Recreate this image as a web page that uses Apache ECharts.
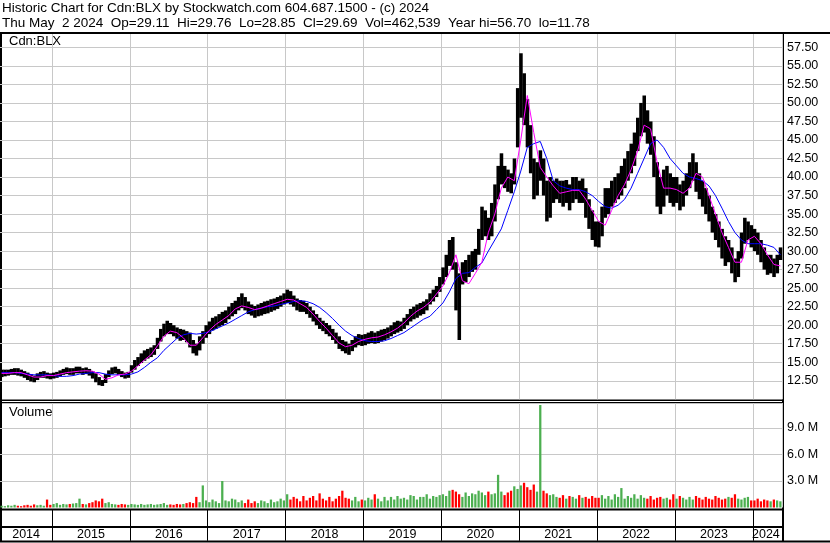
<!DOCTYPE html>
<html><head><meta charset="utf-8">
<script src="https://cdn.jsdelivr.net/npm/echarts@6/dist/echarts.min.js"></script>
<style>html,body{margin:0;padding:0;background:#fff}#c{width:830px;height:543px}</style>
</head><body><div id="c"></div>
<script>
// ---------- DATA ----------
// half-month periods from 2014-05 (first half) to 2024-05 (first half)
const yearLabels = ['2014','2015','2016','2017','2018','2019','2020','2021','2022','2023','2024'];
const firstPeriod = {year: 2014, month: 5};
const periodCount = 241;

// price high / low per half-month period
const hiPrices = [
 14.0,14.0,14.0,14.1,14.2,14.2,14.0,13.8,13.6,13.4,13.2,13.5,13.7,13.8,13.6,13.5,
 13.6,13.7,13.9,14.1,14.3,14.2,14.2,14.4,14.4,14.2,14.3,14.1,13.8,13.5,13.0,12.6,13.4,13.9,14.3,14.4,14.1,13.8,13.6,13.7,
 14.6,15.3,15.7,16.2,16.6,16.8,17.0,17.3,18.3,19.5,20.2,20.6,20.3,20.0,19.7,19.5,19.4,19.2,19.0,18.0,17.5,18.5,19.2,20.0,
 20.5,21.0,21.2,21.5,21.8,22.0,22.5,23.0,23.3,23.8,24.3,23.8,23.2,22.8,22.6,22.8,23.0,23.2,23.3,23.5,23.6,23.8,24.0,24.3,
 24.8,24.6,24.0,23.6,23.4,23.3,23.0,22.5,22.0,21.5,21.0,20.6,20.3,20.0,19.5,19.0,18.5,18.0,17.8,17.5,18.0,18.5,18.8,18.7,
 18.8,19.0,19.2,19.0,19.2,19.4,19.5,19.7,20.0,20.4,20.6,20.5,21.0,21.5,22.2,22.5,22.8,23.0,23.2,23.5,24.3,24.8,25.3,26.5,
 27.8,29.5,31.5,31.9,28.5,27.0,28.5,28.8,29.5,30.0,30.3,33.0,36.0,35.5,34.5,36.5,39.0,41.5,43.2,41.5,41.0,40.5,42.5,52.0,
 56.7,54.0,50.5,47.0,42.5,42.0,43.6,42.5,39.5,40.0,39.5,39.8,39.5,39.5,39.6,39.0,40.0,40.0,39.5,39.8,38.5,37.0,35.5,34.0,
 34.0,36.0,38.5,38.5,39.5,40.0,40.5,41.5,42.5,43.5,44.5,46.0,48.0,50.0,51.0,49.0,47.5,45.5,42.0,40.0,41.0,41.5,40.5,40.0,
 40.0,39.0,39.5,40.5,42.0,43.2,42.0,40.5,39.5,38.5,37.5,36.0,35.0,34.0,33.0,32.0,31.5,30.5,29.0,30.0,32.5,34.5,34.0,33.5,
 33.0,32.5,31.5,30.5,29.5,29.5,29.0,29.5,30.5
];
const loPrices = [
 13.0,13.1,13.2,13.3,13.3,13.2,13.1,12.9,12.6,12.4,12.3,12.6,12.9,12.9,12.8,12.7,
 12.8,12.9,13.1,13.3,13.4,13.3,13.3,13.5,13.5,13.3,13.4,13.2,12.8,12.3,11.9,11.8,12.2,13.0,13.4,13.5,13.3,13.0,12.8,12.9,
 13.6,14.0,14.5,14.9,15.2,15.5,15.7,16.0,16.8,17.8,18.5,18.8,18.8,18.5,18.2,17.9,18.0,17.7,17.0,16.2,15.9,16.6,17.5,18.3,
 18.8,19.3,19.5,19.8,20.0,20.3,20.8,21.2,21.5,22.0,22.3,22.0,21.5,21.3,21.0,21.2,21.3,21.5,21.6,21.8,22.0,22.2,22.5,22.8,
 23.0,22.8,22.5,22.0,21.8,21.8,21.5,21.0,20.5,20.0,19.5,19.2,18.8,18.5,18.0,17.5,16.8,16.5,16.2,16.0,16.5,17.0,17.3,17.2,
 17.3,17.5,17.6,17.5,17.6,17.8,18.0,18.2,18.5,18.8,19.0,19.2,19.5,20.0,20.5,20.8,21.0,21.3,21.5,22.0,22.8,23.2,23.8,24.5,
 25.5,26.5,28.0,27.5,22.0,18.0,25.5,25.8,26.5,27.2,27.5,29.5,31.5,32.0,31.5,32.0,34.0,37.0,39.0,38.5,38.0,37.8,39.0,44.0,
 48.0,47.0,44.0,40.5,37.0,37.5,39.5,37.5,34.0,34.5,36.5,37.0,36.5,36.0,36.5,35.5,36.5,37.0,36.5,36.5,34.5,33.0,31.5,30.6,
 30.5,32.0,34.5,35.0,36.0,36.5,37.0,37.5,38.5,39.5,40.5,41.5,43.5,45.5,46.0,44.5,43.0,40.0,36.0,35.0,36.0,37.5,36.5,36.0,
 36.5,35.5,36.0,37.5,38.5,39.5,38.0,37.0,36.0,35.0,34.0,32.5,31.5,30.5,29.0,28.0,28.5,27.0,25.8,26.5,29.0,31.0,31.5,30.5,
 30.0,29.5,28.5,27.5,26.8,27.0,26.5,27.0,28.8
];
// volume (millions) per half-month period
const volumes = [
 0.2,0.15,0.25,0.2,0.3,0.2,0.15,0.25,0.3,0.2,0.35,0.25,0.3,0.2,0.9,0.3,
 0.4,0.5,0.3,0.4,0.35,0.4,0.45,0.5,1.0,0.4,0.35,0.5,0.6,0.8,0.7,1.0,0.5,0.6,0.4,0.35,0.3,0.4,0.35,0.3,
 0.4,0.35,0.3,0.4,0.3,0.35,0.4,0.3,0.35,0.4,0.5,0.3,0.35,0.3,0.4,0.35,0.4,0.5,0.6,0.5,1.2,0.6,2.5,0.8,
 0.6,0.9,0.7,0.5,3.0,0.8,0.7,1.0,0.9,0.6,0.8,0.5,0.9,0.5,0.7,0.5,0.8,0.7,0.5,0.9,0.6,0.7,1.0,0.8,
 1.5,0.9,1.2,1.0,0.7,1.3,0.8,1.1,1.3,0.8,1.6,1.0,0.8,1.2,0.7,1.0,1.3,1.9,1.1,1.0,0.8,1.2,0.7,0.9,
 0.8,1.1,0.9,1.5,1.0,0.7,1.2,0.8,1.2,0.9,1.3,1.0,1.1,0.9,1.4,1.3,0.9,1.2,1.2,1.5,1.0,1.3,1.2,1.4,
 1.5,1.3,1.9,2.0,1.8,1.5,1.2,1.7,1.3,1.6,1.5,1.9,1.7,1.4,1.8,1.5,1.6,3.7,1.8,1.4,1.7,1.9,2.4,2.1,
 2.5,2.8,2.3,2.0,2.6,1.8,11.6,1.9,1.6,1.4,1.5,1.2,1.1,1.4,1.0,1.3,1.2,1.0,1.4,1.1,1.2,1.0,1.3,1.1,
 1.1,1.4,1.0,1.3,0.9,1.5,1.2,2.2,1.0,1.3,1.1,1.5,1.0,1.4,1.1,1.0,1.3,0.9,1.1,1.2,1.0,1.1,0.9,1.5,
 1.0,1.3,1.1,0.9,1.2,0.9,1.3,1.1,0.9,1.2,1.0,0.9,1.3,1.1,0.9,1.0,1.2,1.1,1.5,1.0,0.9,1.1,1.2,0.8,
 0.8,1.0,0.7,0.9,0.8,0.7,0.9,0.8,0.7
];
// moving averages, one value per month (May 2014 .. May 2024)
const maShort = [
 13.5,13.5,13.6,13.6,13.3,13.0,13.0,13.2,
 13.2,13.4,13.6,13.7,13.8,13.85,13.8,13.4,12.7,12.9,13.3,13.4,
 13.8,14.5,15.3,16.0,17.2,18.5,19.2,19.0,18.3,17.3,17.3,18.3,
 19.3,20.1,20.7,21.3,22.2,22.6,22.4,22.1,22.3,22.6,22.9,23.2,
 23.5,23.4,22.9,22.4,21.5,20.5,19.6,18.6,17.6,17.1,17.3,17.8,
 18.1,18.3,18.4,18.7,19.1,19.6,20.3,21.2,21.9,22.4,23.1,24.2,
 25.3,27.1,29.5,26.0,25.6,27.0,28.5,32.5,35.0,38.5,40.0,39.5,
 45.0,51.0,46.0,41.3,40.0,38.8,37.8,38.0,38.2,38.2,37.0,35.5,
 34.0,33.5,35.5,37.5,39.0,41.0,43.5,47.0,46.5,42.0,38.5,38.5,
 38.3,37.8,38.5,40.5,40.0,37.5,35.0,32.5,30.5,28.5,28.5,31.5,
 32.0,31.0,29.5,28.2,28.0
];
const maLong = [
 13.6,13.6,13.6,13.5,13.4,13.3,13.3,13.3,
 13.2,13.1,13.1,13.2,13.4,13.5,13.6,13.6,13.4,13.3,13.3,13.3,
 13.4,13.7,14.3,15.0,15.6,16.6,17.4,18.2,18.7,18.9,18.8,18.9,
 19.1,19.5,19.9,20.3,20.8,21.3,21.8,22.1,22.3,22.5,22.6,22.8,
 23.0,23.2,23.3,23.2,22.9,22.4,21.7,20.9,20.0,19.2,18.6,18.2,
 17.9,17.8,17.8,17.9,18.2,18.6,19.0,19.6,20.2,20.8,21.2,22.1,
 23.0,24.5,26.3,27.0,27.1,27.8,28.4,30.0,31.5,33.0,35.5,38.0,
 40.8,44.0,44.5,44.8,42.5,39.5,38.8,38.5,38.3,38.3,38.0,37.5,
 36.7,36.0,35.8,36.2,37.0,38.5,40.5,42.5,44.5,45.0,44.0,42.5,
 41.5,40.5,40.0,39.8,39.5,38.8,37.5,35.8,34.0,32.5,31.5,31.0,
 31.0,31.0,30.8,30.5,29.5
];
const headerLine1 = 'Historic Chart for Cdn:BLX by Stockwatch.com 604.687.1500 - (c) 2024';
const headerLine2 = 'Thu May  2 2024  Op=29.11  Hi=29.76  Lo=28.85  Cl=29.69  Vol=462,539  Year hi=56.70  lo=11.78';

// ---------- BUILD ----------
const periods = [];
{
  let y = firstPeriod.year, m = firstPeriod.month;
  while (periods.length < periodCount) {
    const mm = (m < 10 ? '0' : '') + m;
    periods.push(y + '-' + mm + 'a');
    if (periods.length < periodCount) periods.push(y + '-' + mm + 'b');
    m++; if (m > 12) { m = 1; y++; }
  }
}
const isYearStart = (i) => periods[i] && periods[i].slice(5) === '01a';
const labelIdx = new Set();
yearLabels.forEach(yl => {
  const idx = periods.map((p, i) => p.startsWith(yl) ? i : -1).filter(i => i >= 0);
  labelIdx.add(idx[Math.floor(idx.length / 2)]);
});
const mid = hiPrices.map((h, i) => (h + loPrices[i]) / 2);
const RED = '#ff0000', GREEN = '#4caf50';

const font = "'Liberation Sans', Arial, sans-serif";
const gridCol = '#c8c8c8';

const chart = echarts.init(document.getElementById('c'), null, {renderer: 'canvas'});
chart.setOption({
  animation: false,
  backgroundColor: '#fff',
  grid: [
    {left: 0, right: 48, top: 34, height: 365.3},
    {left: 0, right: 48, top: 403, height: 104.5},
    {left: 0, right: 48, top: 510, height: 16.8}
  ],
  xAxis: [
    {gridIndex: 0, type: 'category', data: periods, boundaryGap: true,
     axisLine: {show: false}, axisTick: {show: false}, axisLabel: {show: false},
     splitLine: {show: true, interval: (i) => isYearStart(i), lineStyle: {color: gridCol, width: 1}}},
    {gridIndex: 1, type: 'category', data: periods, boundaryGap: true,
     axisLine: {show: false}, axisTick: {show: false}, axisLabel: {show: false},
     splitLine: {show: true, interval: (i) => isYearStart(i), lineStyle: {color: gridCol, width: 1}}},
    {gridIndex: 2, type: 'category', data: periods, boundaryGap: true,
     axisLine: {show: true, lineStyle: {color: '#000', width: 2}},
     axisTick: {show: true, interval: (i) => isYearStart(i), length: 14, inside: false, lineStyle: {color: '#000', width: 1}},
     splitLine: {show: true, interval: (i) => isYearStart(i), lineStyle: {color: '#000', width: 1}},
     axisLabel: {show: true, interval: (i) => labelIdx.has(i), formatter: (v) => v.slice(0, 4),
       margin: 1, fontFamily: font, fontSize: 12.5, color: '#000', padding: [0, 3, 0, 0]}}
  ],
  yAxis: [
    {gridIndex: 0, type: 'value', position: 'right', min: 10, max: 59.3, interval: 2.5,
     axisLine: {show: false}, axisTick: {show: false},
     axisLabel: {showMinLabel: false, showMaxLabel: false, margin: 5, fontFamily: font, fontSize: 12.5, color: '#000',
       formatter: (v) => v.toFixed(2)},
     splitLine: {show: true, showMinLine: false, showMaxLine: false, lineStyle: {color: gridCol, width: 1}}},
    {gridIndex: 1, type: 'value', position: 'right', min: 0, max: 11.83, interval: 3,
     axisLine: {show: false}, axisTick: {show: false},
     axisLabel: {showMinLabel: false, showMaxLabel: false, margin: 5, fontFamily: font, fontSize: 12.5, color: '#000',
       formatter: (v) => v === 0 ? '' : v.toFixed(1) + ' M'},
     splitLine: {show: true, showMinLine: false, showMaxLine: false, lineStyle: {color: gridCol, width: 1}}},
    {gridIndex: 2, type: 'value', show: false}
  ],
  series: [
    {type: 'custom', xAxisIndex: 0, yAxisIndex: 0,
     data: hiPrices.map((h, i) => [i, h, loPrices[i]]),
     encode: {x: 0, y: [1, 2]},
     renderItem: (params, api) => {
       const i = api.value(0);
       const top = api.coord([i, api.value(1)]);
       const bot = api.coord([i, api.value(2)]);
       const w = api.size([1, 0])[0];
       return {type: 'rect', shape: {x: top[0] - w / 2, y: top[1], width: w + 0.3, height: bot[1] - top[1]},
         style: {fill: '#000'}};
     }},
    {type: 'line', xAxisIndex: 0, yAxisIndex: 0, data: maLong.map((v, k) => [2 * k, v]),
     symbol: 'none', lineStyle: {color: '#0000ff', width: 1}, z: 3},
    {type: 'line', xAxisIndex: 0, yAxisIndex: 0, data: maShort.map((v, k) => [2 * k, v]),
     symbol: 'none', lineStyle: {color: '#ff00ff', width: 1}, z: 4},
    {type: 'bar', xAxisIndex: 1, yAxisIndex: 1, data: volumes, barWidth: '70%',
     itemStyle: {color: (p) => (p.dataIndex > 0 && mid[p.dataIndex] < mid[p.dataIndex - 1]) ? RED : GREEN}}
  ],
  graphic: [
    {type: 'text', left: 2, top: 1, style: {text: headerLine1, font: '13.5px ' + font, fill: '#000'}},
    {type: 'text', left: 2, top: 16, style: {text: headerLine2, font: '13.5px ' + font, fill: '#000'}},
    {type: 'text', left: 9, top: 35, style: {text: 'Cdn:BLX', font: '13px ' + font, fill: '#000'}},
    {type: 'text', left: 9, top: 406, style: {text: 'Volume', font: '13px ' + font, fill: '#000'}},
    {type: 'rect', shape: {x: 0, y: 32, width: 830, height: 2}, style: {fill: '#000'}},
    {type: 'rect', shape: {x: 0, y: 32, width: 2, height: 510}, style: {fill: '#000'}},
    {type: 'rect', shape: {x: 782, y: 32, width: 2, height: 510}, style: {fill: '#000'}},
    {type: 'rect', shape: {x: 0, y: 399.5, width: 782, height: 1.5}, style: {fill: '#000'}},
    {type: 'rect', shape: {x: 0, y: 402, width: 782, height: 1.2}, style: {fill: '#000'}},
    {type: 'rect', shape: {x: 0, y: 508.5, width: 782, height: 2}, style: {fill: '#000'}},
    {type: 'rect', shape: {x: 0, y: 540.5, width: 830, height: 2}, style: {fill: '#000'}}
  ]
});
</script></body></html>
